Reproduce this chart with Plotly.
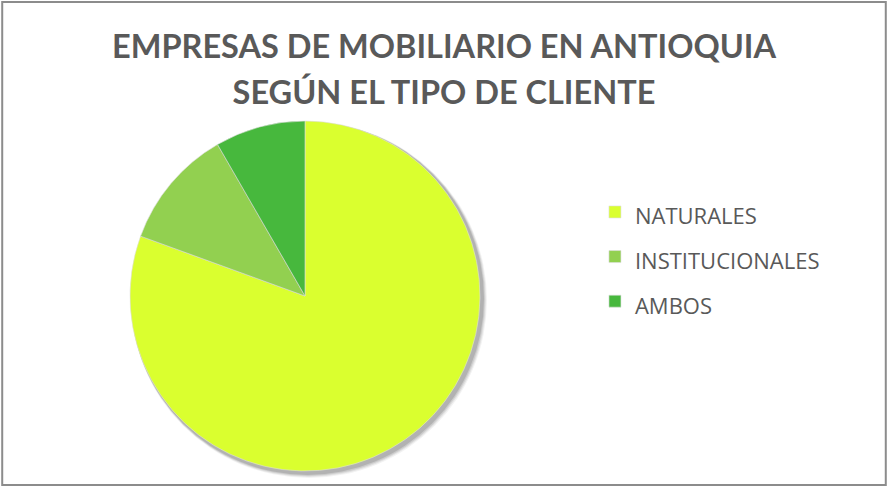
import plotly.graph_objects as go

labels = ["NATURALES", "INSTITUCIONALES", "AMBOS"]
values = [29, 4, 3]
colors = ["#DAFF2F", "#92D050", "#47B83D"]

W, H = 888, 487
cx, cy, r = 305, 296, 175

legend_labels = ["<span style='font-size:22px'>%s</span>" % l for l in labels]
title_lines = ["EMPRESAS DE MOBILIARIO EN ANTIOQUIA", "SEGÚN EL TIPO DE CLIENTE"]
title_text = "<br>".join("<span style='font-size:32.5px'><b>%s</b></span>" % t for t in title_lines)

fig = go.Figure()
fig.add_trace(go.Pie(
    labels=legend_labels,
    values=values,
    marker=dict(colors=colors, line=dict(color="#DDDDDD", width=0.6)),
    sort=False,
    direction="clockwise",
    rotation=0,
    textinfo="none",
    hoverinfo="label+value+percent",
    domain=dict(x=[(cx - r) / W, (cx + r) / W], y=[1 - (cy + r) / H, 1 - (cy - r) / H]),
))

# soft shadow under the pie
shapes = []
for off, op in [(7, 0.05), (6, 0.07), (5, 0.09), (4, 0.12)]:
    shapes.append(dict(type="circle", xref="paper", yref="paper",
                       xsizemode="pixel", ysizemode="pixel",
                       xanchor=cx / W, yanchor=1 - cy / H,
                       x0=-r + 1, x1=r + off, y0=-r - off, y1=r - 1,
                       fillcolor="rgba(0,0,0,%s)" % op, line=dict(width=0), layer="below"))
# chart frame
shapes.append(dict(type="rect", xref="paper", yref="paper", x0=0.0025, x1=0.9975, y0=0.004, y1=0.996,
                   line=dict(color="#8C8C8C", width=2), layer="above"))

fig.update_layout(
    width=W, height=H,
    margin=dict(l=0, r=0, t=0, b=0),
    paper_bgcolor="white", plot_bgcolor="white",
    title=dict(text=title_text,
               x=0.5, xanchor="center", y=0.88, yanchor="top",
               font=dict(family="Lato", size=35, color="#595959")),
    legend=dict(x=0.67, y=0.473, xanchor="left", yanchor="middle",
                font=dict(family="Open Sans", size=32, color="#595959"),
                itemwidth=30),
    shapes=shapes,
)

fig.write_html("out.html", config={"displayModeBar": False},
               post_script="document.body.style.margin='0';")
